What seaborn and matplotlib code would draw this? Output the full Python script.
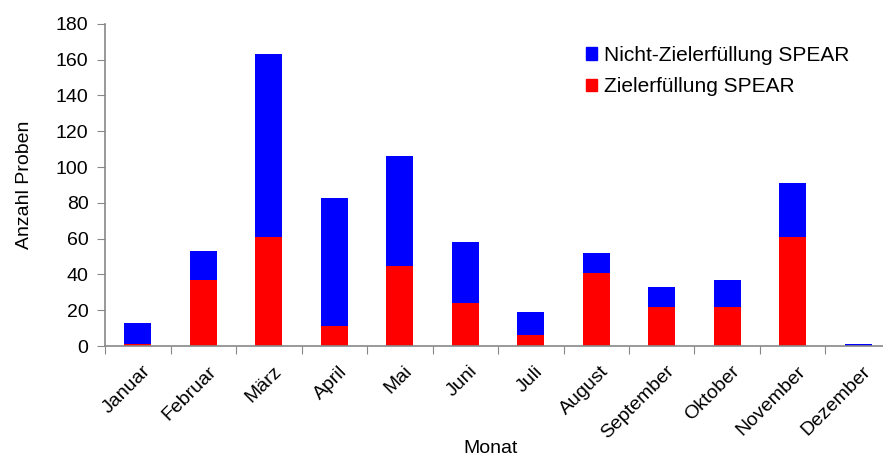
import numpy as np
import pandas as pd
import seaborn as sns
import matplotlib
matplotlib.use('Agg')
import matplotlib.pyplot as plt
from matplotlib.patches import Patch
import matplotlib.transforms as mtransforms

# data
monate = ['Januar', 'Februar', 'März', 'April', 'Mai', 'Juni', 'Juli',
          'August', 'September', 'Oktober', 'November', 'Dezember']
ziel_ok = [1, 37, 61, 11, 45, 24, 6, 41, 22, 22, 61, 0]
ziel_nicht = [12, 16, 102, 72, 61, 34, 13, 11, 11, 15, 30, 1]

df = pd.DataFrame({'Monat': monate, 'ok': ziel_ok, 'nicht': ziel_nicht})
df['gesamt'] = df['ok'] + df['nicht']

sns.set_style('white')
plt.rcParams['font.family'] = ['Liberation Sans', 'DejaVu Sans']
plt.rcParams['text.color'] = 'black'
plt.rcParams['axes.labelcolor'] = 'black'
plt.rcParams['xtick.labelcolor'] = 'black'
plt.rcParams['ytick.labelcolor'] = 'black'
fs = 14

fig = plt.figure(figsize=(8.83, 4.59), dpi=100)
ax = fig.add_axes([0.119, 0.246, 0.890, 0.702])

blau = '#0000ff'
rot = '#ff0000'
sns.barplot(data=df, x='Monat', y='gesamt', color=blau, width=0.41,
            saturation=1, linewidth=0, ax=ax)
sns.barplot(data=df, x='Monat', y='ok', color=rot, width=0.41,
            saturation=1, linewidth=0, ax=ax)

ax.set_ylim(0, 180)
ax.set_xlim(-0.5, 11.5)
ax.set_yticks(np.arange(0, 181, 20))
ax.set_xticks(np.arange(-0.5, 11.5, 1), minor=False)
ax.set_xticklabels([])
ax.set_xticks(np.arange(0, 12), minor=True)
ax.set_xticklabels(monate, minor=True, rotation=45, ha='right',
                   rotation_mode='anchor', fontsize=fs, color='black')
ax.tick_params(axis='x', which='minor', length=0, pad=12)
ax.tick_params(axis='x', which='major', length=6, color='#888888',
               direction='out', bottom=True)
ax.tick_params(axis='y', length=6, color='#888888', direction='out',
               left=True, labelsize=fs, pad=6, labelcolor='black')
offset = mtransforms.ScaledTranslation(4 / 100, 0, fig.dpi_scale_trans)
for lab in ax.get_xticklabels(minor=True):
    lab.set_transform(lab.get_transform() + offset)

for s in ['top', 'right']:
    ax.spines[s].set_visible(False)
for s in ['left', 'bottom']:
    ax.spines[s].set_color('#888888')
    ax.spines[s].set_linewidth(1.2)

ax.set_ylabel('Anzahl Proben', fontsize=fs, labelpad=16)
ax.set_xlabel('Monat', fontsize=fs)
ax.xaxis.set_label_coords(0.49, -0.29)

handles = [Patch(color=blau, label='Nicht-Zielerfüllung SPEAR'),
           Patch(color=rot, label='Zielerfüllung SPEAR')]
ax.legend(handles=handles, loc='upper left', bbox_to_anchor=(0.588, 0.99),
          frameon=False, fontsize=15, handlelength=0.55, handleheight=0.55,
          handletextpad=0.3, labelspacing=0.6)

fig.savefig('out.png', dpi=100)
